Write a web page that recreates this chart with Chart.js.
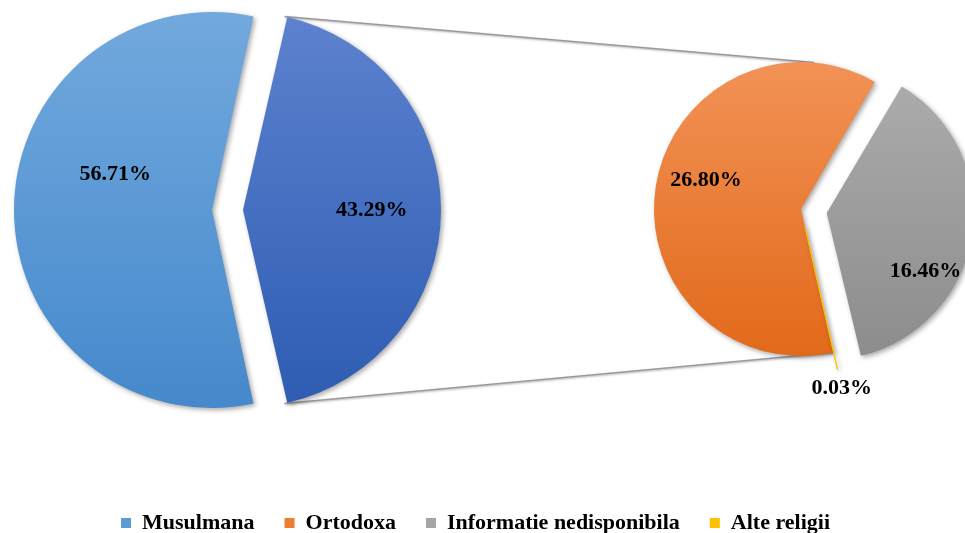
<!DOCTYPE html>
<html>
<head>
<meta charset="utf-8">
<script src="https://cdn.jsdelivr.net/npm/chart.js"></script>
<style>
	html, body { margin: 0; padding: 0; background: #fff; }
	body { width: 965px; height: 533px; position: relative; overflow: hidden; }
	canvas { position: absolute; }
</style>
</head>
<body>
<canvas id="pieMain" width="1296" height="606"></canvas>
<canvas id="pieSub" width="500" height="500"></canvas>
<script>
// 데이터 (percent)
const mainLabels = ['Musulmana', 'Alte'];
const mainValues = [56.71, 43.29];

const subLabels = ['Ortodoxa', 'Informatie nedisponibila', 'Alte religii'];
const subValues = [26.80, 16.46, 0.03];

const legendLabels = ['Musulmana', 'Ortodoxa', 'Informatie nedisponibila', 'Alte religii'];
const legendColors = ['#5b9bd5', '#ed7d31', '#a5a5a5', '#ffc000'];

// canvas 위치 (page 좌표)
const MAIN_POS = { x: -436, y: -62 };
const SUB_POS = { x: 551, y: -41 };
document.getElementById('pieMain').style.left = MAIN_POS.x + 'px';
document.getElementById('pieMain').style.top = MAIN_POS.y + 'px';
document.getElementById('pieSub').style.left = SUB_POS.x + 'px';
document.getElementById('pieSub').style.top = SUB_POS.y + 'px';

const FONT = "'Liberation Serif', 'Times New Roman', serif";
Chart.defaults.font.family = FONT;

// chart.js 는 offset/4 만큼 밀고, 반지름도 (offset/4)*fix 만큼 키운다
function arcFix(arc) {
	return 1 - Math.sin(Math.min(Math.PI, arc.circumference || 0));
}
function shift(arc) {
	return (arc.options.offset || 0) / 4;
}

// 밀어낸 조각도 반지름이 그대로 보이게
const keepRadius = {
	id: 'keepRadius',
	afterDatasetUpdate(chart, args) {
		const R = chart.data.datasets[0].radius;
		args.meta.data.forEach(arc => {
			arc.outerRadius = R - shift(arc) * arcFix(arc);
		});
	}
};

// 세로 그라디언트
function vGrad(tops, bottoms) {
	return (ctx) => {
		const chart = ctx.chart;
		const area = chart.chartArea;
		const i = ctx.dataIndex;
		if (!area) return bottoms[i];
		const cy = (area.top + area.bottom) / 2;
		const r = ctx.dataset.radius;
		const g = chart.ctx.createLinearGradient(0, cy - r, 0, cy + r);
		g.addColorStop(0, tops[i]);
		g.addColorStop(1, bottoms[i]);
		return g;
	};
}

// 그림자
const shadowPlugin = {
	id: 'shadow',
	beforeDatasetsDraw(chart) {
		const c = chart.ctx;
		c.save();
		c.shadowColor = 'rgba(0,0,0,0.35)';
		c.shadowBlur = 5;
		c.shadowOffsetX = 2;
		c.shadowOffsetY = 2;
	},
	afterDatasetsDraw(chart) {
		chart.ctx.restore();
	}
};

// 조각 라벨
const sliceLabels = {
	id: 'sliceLabels',
	afterDraw(chart, args, opts) {
		const c = chart.ctx;
		const meta = chart.getDatasetMeta(0);
		const values = chart.data.datasets[0].data;
		const R = chart.data.datasets[0].radius;
		c.save();
		c.font = 'bold 22px ' + FONT;
		c.fillStyle = '#000';
		c.textAlign = 'center';
		c.textBaseline = 'middle';
		meta.data.forEach((arc, i) => {
			const pos = opts.pos[i];
			const mid = (arc.startAngle + arc.endAngle) / 2;
			const ox = arc.x + Math.cos(mid) * shift(arc);
			const oy = arc.y + Math.sin(mid) * shift(arc);
			const a = mid + pos.da * Math.PI / 180;
			c.fillText(values[i].toFixed(2) + '%', ox + Math.cos(a) * R * pos.f, oy + Math.sin(a) * R * pos.f);
		});
		c.restore();
	}
};

// 두 원을 잇는 선
const connector = {
	id: 'connector',
	beforeDatasetsDraw(chart, args, opts) {
		const arc = chart.getDatasetMeta(0).data[1];
		const sub = subChart.getDatasetMeta(0).data[0];
		if (!arc || !sub) return;
		const mid = (arc.startAngle + arc.endAngle) / 2;
		const ox = arc.x + Math.cos(mid) * shift(arc);
		const oy = arc.y + Math.sin(mid) * shift(arc);
		const R = chart.data.datasets[0].radius;
		const sr = subChart.data.datasets[0].radius;
		const dx = SUB_POS.x - MAIN_POS.x;
		const dy = SUB_POS.y - MAIN_POS.y;
		const topA = opts.topAngle * Math.PI / 180;

		const c = chart.ctx;
		c.save();
		c.strokeStyle = '#9a9a9a';
		c.lineWidth = 1.5;
		c.shadowColor = 'rgba(0,0,0,0.3)';
		c.shadowBlur = 2;
		c.shadowOffsetX = 1;
		c.shadowOffsetY = 1;
		c.beginPath();
		c.moveTo(ox + Math.cos(arc.startAngle) * R, oy + Math.sin(arc.startAngle) * R);
		c.lineTo(sub.x + dx + Math.cos(topA) * sr, sub.y + dy + Math.sin(topA) * sr);
		c.moveTo(ox + Math.cos(arc.endAngle) * R, oy + Math.sin(arc.endAngle) * R);
		c.lineTo(sub.x + dx + Math.cos(sub.startAngle) * sr, sub.y + dy + Math.sin(sub.startAngle) * sr);
		c.stroke();
		c.restore();
	}
};

// 오른쪽 원 (먼저 생성)
const subChart = new Chart(document.getElementById('pieSub'), {
	type: 'pie',
	data: {
		labels: subLabels,
		datasets: [{
			data: subValues,
			radius: 147,
			offset: [0, 104, 72],
			borderWidth: [0, 0, 1],
			borderColor: '#ffc000',
			backgroundColor: vGrad(['#f29256', '#adadad', '#ffc000'], ['#e2691a', '#8c8c8c', '#e8ad00'])
		}]
	},
	options: {
		responsive: false,
		animation: false,
		events: [],
		rotation: 167.3,
		plugins: {
			legend: { display: false },
			tooltip: { enabled: false },
			sliceLabels: { pos: [{ f: 0.675, da: 8 }, { f: 0.78, da: 22 }, { f: 1.13, da: 0 }] }
		}
	},
	plugins: [keepRadius, shadowPlugin, sliceLabels]
});

// 왼쪽 원 + 범례
const mainChart = new Chart(document.getElementById('pieMain'), {
	type: 'pie',
	data: {
		labels: mainLabels,
		datasets: [{
			data: mainValues,
			radius: 198,
			offset: [0, 124],
			borderWidth: 0,
			backgroundColor: vGrad(['#72a9dd', '#5d82cf'], ['#4589cc', '#2d5cb2'])
		}]
	},
	options: {
		responsive: false,
		animation: false,
		events: [],
		rotation: 90 + mainValues[1] / (mainValues[0] + mainValues[1]) * 180,
		plugins: {
			tooltip: { enabled: false },
			legend: {
				position: 'bottom',
				align: 'end',
				labels: {
					boxWidth: 10,
					boxHeight: 10,
					padding: 30,
					color: '#000',
					font: { size: 22, weight: 'bold', family: FONT },
					generateLabels: () => legendLabels.map((t, i) => ({
						text: t,
						fillStyle: legendColors[i],
						strokeStyle: legendColors[i],
						lineWidth: 0,
						hidden: false,
						index: i
					}))
				}
			},
			connector: { topAngle: -85 },
			sliceLabels: { pos: [{ f: 0.52, da: 20 }, { f: 0.65, da: 0 }] }
		}
	},
	plugins: [keepRadius, connector, shadowPlugin, sliceLabels]
});
</script>
</body>
</html>
